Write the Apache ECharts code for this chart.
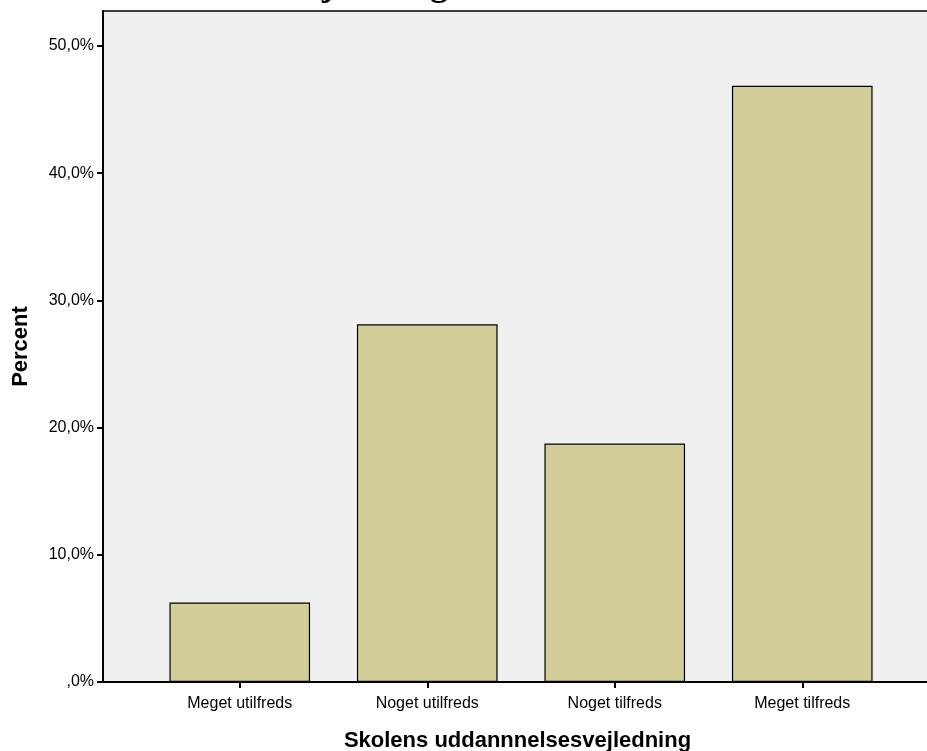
<!DOCTYPE html>
<html>
<head>
<meta charset="utf-8">
<script src="https://cdn.jsdelivr.net/npm/echarts@6/dist/echarts.min.js"></script>
<style>html,body{margin:0;padding:0;background:#fff}#c{width:927px;height:751px}</style>
</head>
<body>
<div id="c"></div>
<script>
const categories = ['Meget utilfreds', 'Noget utilfreds', 'Noget tilfreds', 'Meget tilfreds'];
const percentValues = [6.25, 28.125, 18.75, 46.875];
const yTicks = [0, 10, 20, 30, 40, 50];
const yMax = 52.75;

const chart = echarts.init(document.getElementById('c'), null, {renderer: 'canvas'});
const fmt = v => (v === 0 ? ',0' : v.toFixed(1).replace('.', ',')) + '%';
chart.setOption({
  animation: false,
  backgroundColor: '#ffffff',
  textStyle: {fontFamily: 'Liberation Sans, Arial, sans-serif'},
  graphic: [{
    type: 'text', left: 94, top: -32,
    style: {text: 'Uddannelsesvejledning', font: 'bold 36px "Liberation Serif", serif', fill: '#000'}
  }],
  grid: [
    {left: 103, top: 11, right: -5, bottom: 69, outerBoundsMode: 'none', containLabel: false, show: true, backgroundColor: '#f0f0f0', borderColor: '#000', borderWidth: 1.5},
    {left: 146, top: 11, width: 750, bottom: 69, outerBoundsMode: 'none', containLabel: false}
  ],
  xAxis: [
    {gridIndex: 0, type: 'value', min: 0, max: 1, axisLabel: {show: false}, axisTick: {show: false}, splitLine: {show: false},
     axisLine: {show: true, lineStyle: {color: '#000', width: 2}},
     name: 'Skolens uddannnelsesvejledning', nameLocation: 'middle', nameGap: 48,
     nameTextStyle: {fontSize: 22, fontWeight: 'bold', color: '#000', fontFamily: 'Liberation Sans, Arial, sans-serif'}},
    {gridIndex: 1, type: 'category', data: categories, boundaryGap: true,
     axisLine: {show: false},
     axisTick: {show: true, alignWithLabel: true, length: 6, lineStyle: {color: '#000', width: 2}},
     axisLabel: {fontSize: 16, color: '#000', margin: 14}}
  ],
  yAxis: [
    {gridIndex: 0, type: 'value', min: 0, max: yMax, interval: 10,
     axisLine: {show: true, lineStyle: {color: '#000', width: 2}},
     axisTick: {show: true, length: 6, customValues: yTicks, lineStyle: {color: '#000', width: 2}},
     axisLabel: {customValues: yTicks, formatter: fmt, fontSize: 16, color: '#000', margin: 9},
     splitLine: {show: false},
     name: 'Percent', nameLocation: 'middle', nameGap: 71,
     nameTextStyle: {fontSize: 22, fontWeight: 'bold', color: '#000', fontFamily: 'Liberation Sans, Arial, sans-serif'}},
    {gridIndex: 1, type: 'value', min: 0, max: yMax, show: false, splitLine: {show: false}}
  ],
  series: [{
    type: 'bar', xAxisIndex: 1, yAxisIndex: 1, data: percentValues,
    barCategoryGap: '25%',
    itemStyle: {color: '#d3ce98', borderColor: '#000', borderWidth: 1.2}
  }]
});
</script>
</body>
</html>
